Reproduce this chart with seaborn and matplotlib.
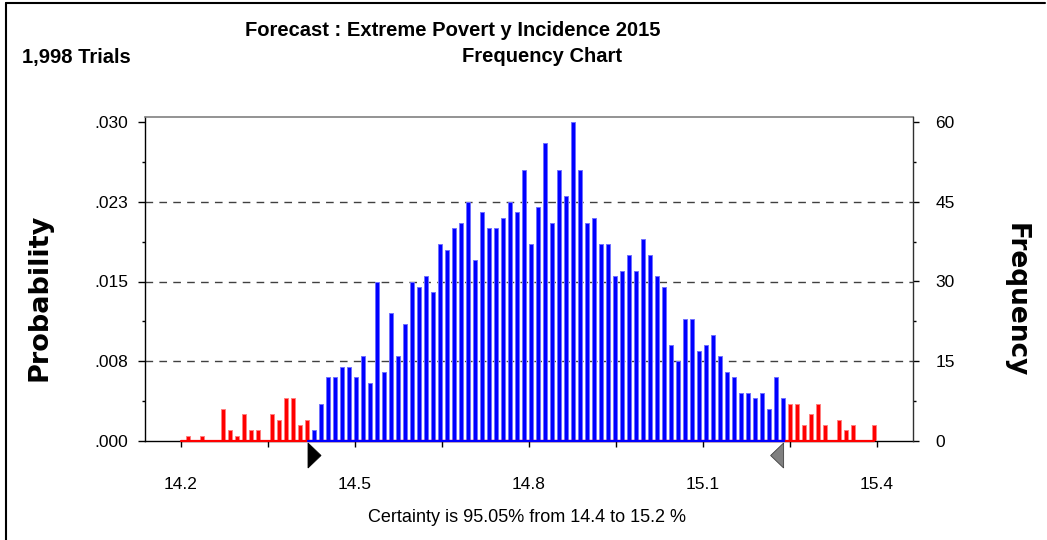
import numpy as np
import pandas as pd
import matplotlib
matplotlib.use("Agg")
import matplotlib.pyplot as plt
import matplotlib.transforms as mtransforms
from matplotlib.patches import Polygon
from matplotlib.lines import Line2D
from matplotlib import font_manager
import seaborn as sns

# ---------------- data ----------------
counts = [0, 1, 0, 1, 0, 0, 6, 2, 1, 5,
          2, 2, 0, 5, 4, 8, 8, 3, 4, 2,
          7, 12, 12, 14, 14, 12, 16, 11, 30, 13,
          24, 16, 22, 30, 29, 31, 28, 37, 36, 40,
          41, 45, 34, 43, 40, 40, 42, 45, 43, 51,
          37, 44, 56, 41, 51, 46, 60, 51, 41, 42,
          37, 37, 31, 32, 35, 32, 38, 35, 31, 29,
          18, 15, 23, 23, 17, 18, 20, 16, 13, 12,
          9, 9, 8, 9, 6, 12, 8, 7, 7, 3,
          5, 7, 3, 0, 4, 2, 3, 0, 0, 3]
bin_start = 14.20
bin_width = 0.01207
trials = 1998
lower_cut = 14.419
upper_cut = 15.239
freq_ticks = [0, 15, 30, 45, 60]
freq_minor = [7.5, 22.5, 37.5, 52.5]
prob_labels = [".000", ".008", ".015", ".023", ".030"]
x_major = [14.2, 14.5, 14.8, 15.1, 15.4]
title = "Forecast : Extreme Povert y Incidence 2015"
trials_text = "1,998 Trials"
chart_text = "Frequency Chart"
certainty_text = "Certainty is 95.05% from 14.4 to 15.2 %"

positions = np.round(bin_start + bin_width * np.arange(len(counts)), 5)
zone = np.where((positions < lower_cut) | (positions > upper_cut), "tail", "mid")
df = pd.DataFrame({"value": positions, "count": counts, "zone": zone})

# ---------------- style ----------------
sns.set_theme(style="white")
names = {f.name for f in font_manager.fontManager.ttflist}
narrow = "Liberation Sans Narrow" in names
plt.rcParams["font.family"] = ["Liberation Sans", "DejaVu Sans"]
for k in ["text.color", "axes.labelcolor", "xtick.color", "ytick.color"]:
    plt.rcParams[k] = "black"
head_family = ["Liberation Sans Narrow", "Liberation Sans", "DejaVu Sans"] if narrow else ["Liberation Sans", "DejaVu Sans"]

fig = plt.figure(figsize=(10.47, 5.40), dpi=100)
fig.patch.set_facecolor("white")
ax = fig.add_axes([145 / 1047, 1 - 441 / 540, (913 - 145) / 1047, (441 - 117) / 540])

pal = {"tail": "#ff0000", "mid": "#0000ff"}
sns.barplot(data=df, x="value", y="count", hue="zone", palette=pal,
            native_scale=True, width=0.5, saturation=1, linewidth=0.7,
            legend=False, ax=ax, zorder=3)
for p in ax.patches:
    fc = p.get_facecolor()
    if fc[0] > 0.5:
        p.set_edgecolor("#ff8080")
    else:
        p.set_edgecolor("#7070ff")

ymax = 60 * (441 - 117) / (441 - 122)
ax.set_xlim(bin_start - 36 / 580, bin_start + 732 / 580)
ax.set_ylim(0, ymax)

for v in freq_ticks[1:-1]:
    ax.axhline(v, color="#404040", lw=1.0, dashes=(5.5, 4.5), zorder=1)

# coloured baseline
ax.plot([positions[0], positions[-1]], [0, 0], color="#ff0000", lw=1.6, zorder=4, clip_on=False)
ax.plot([lower_cut, upper_cut], [0, 0], color="#0000ff", lw=1.6, zorder=5, clip_on=False)

# x ticks
x_ticks = []
x_labels = []
for i, v in enumerate(x_major):
    x_ticks.append(v)
    x_labels.append(f"{v:.1f}")
    if i < len(x_major) - 1:
        x_ticks.append((v + x_major[i + 1]) / 2)
        x_labels.append("")
ax.set_xticks(x_ticks)
ax.set_xticklabels(x_labels)
ax.tick_params(axis="x", which="major", direction="out", length=4, width=1,
               color="black", pad=22, labelsize=12.5, bottom=True)

# left axis (probability)
ax.set_yticks(freq_ticks)
ax.set_yticklabels(prob_labels)
ax.set_yticks(freq_minor, minor=True)
ax.tick_params(axis="y", which="major", direction="out", length=5, width=1,
               color="black", pad=7, labelsize=12.5, left=True)
ax.tick_params(axis="y", which="minor", direction="out", length=2, width=1,
               color="black", left=True)
ax.set_xlabel("")
ax.set_ylabel("")

# right axis (frequency)
ax2 = ax.twinx()
ax2.set_ylim(0, ymax)
ax2.set_yticks(freq_ticks)
ax2.set_yticklabels([str(v) for v in freq_ticks])
ax2.set_yticks(freq_minor, minor=True)
ax2.tick_params(axis="y", which="major", direction="out", length=4, width=1,
                color="black", pad=12, labelsize=12.5, right=True)
ax2.tick_params(axis="y", which="minor", direction="out", length=2, width=1,
                color="black", right=True)
for s in ["top", "left", "bottom"]:
    ax2.spines[s].set_visible(False)
ax2.spines["right"].set_color("#303030")
ax2.spines["right"].set_linewidth(1.0)

ax.spines["top"].set_color("#808080")
ax.spines["top"].set_linewidth(1.2)
ax.spines["left"].set_color("black")
ax.spines["left"].set_linewidth(1.0)
ax.spines["bottom"].set_color("black")
ax.spines["bottom"].set_linewidth(1.0)
ax.spines["right"].set_visible(False)

# certainty markers
trans = mtransforms.blended_transform_factory(ax.transData, ax.transAxes)
tri_w = 13 / 580
y0, y1 = -2 / 324, -27 / 324
ym = (y0 + y1) / 2
ax.add_patch(Polygon([(lower_cut, y0), (lower_cut, y1), (lower_cut + tri_w, ym)],
                     closed=True, facecolor="black", edgecolor="black", lw=0.6,
                     transform=trans, clip_on=False, zorder=6))
ax.add_patch(Polygon([(upper_cut, y0), (upper_cut, y1), (upper_cut - tri_w, ym)],
                     closed=True, facecolor="#808080", edgecolor="#404040", lw=0.6,
                     transform=trans, clip_on=False, zorder=6))

# texts
W, H = 1047, 540
tsize = 16 if narrow else 14.5
fig.text(453 / W, 1 - 30 / H, title, ha="center", va="center", fontsize=tsize,
         fontweight="bold", family=head_family)
fig.text(22 / W, 1 - 57 / H, trials_text, ha="left", va="center", fontsize=tsize,
         fontweight="bold", family=head_family)
fig.text(542 / W, 1 - 57 / H, chart_text, ha="center", va="center", fontsize=tsize,
         fontweight="bold", family=head_family)
fig.text(527 / W, 1 - 518 / H, certainty_text, ha="center", va="center", fontsize=13)
fig.text(40 / W, 1 - 297 / H, "Probability", ha="center", va="center", rotation=90,
         fontsize=19.5, fontweight="bold", family=["DejaVu Sans"])
fig.text(1016 / W, 1 - 300 / H, "Frequency", ha="center", va="center", rotation=-90,
         fontsize=19, fontweight="bold", family=["DejaVu Sans"])

# outer frame lines
fig.add_artist(Line2D([6 / W, 1045 / W], [1 - 3 / H, 1 - 3 / H], color="black", lw=1.5,
                      transform=fig.transFigure))
fig.add_artist(Line2D([6 / W, 6 / W], [1 - 3 / H, 0], color="black", lw=1.5,
                      transform=fig.transFigure))

fig.savefig("out.png", dpi=100)
